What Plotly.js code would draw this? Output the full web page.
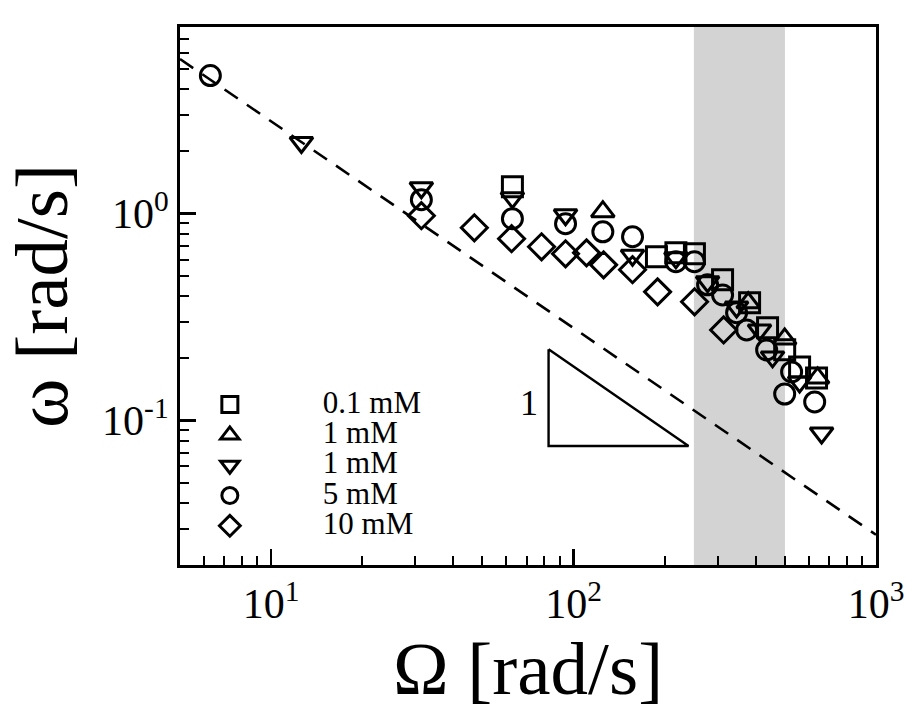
<!DOCTYPE html>
<html><head><meta charset="utf-8">
<script src="https://cdn.plot.ly/plotly-3.0.1.min.js"></script>
<style>html,body{margin:0;padding:0;background:#fff}</style>
</head><body><div id="chart" style="width:919px;height:719px"></div>
<script>
// ---- data ----
const seriesNames = ['0.1 mM', '1 mM', '1 mM', '5 mM', '10 mM'];
const sqX = [62.8, 188, 218, 251, 311, 382, 438, 499, 559, 636];
const sqY = [1.35, 0.619, 0.647, 0.640, 0.479, 0.371, 0.281, 0.220, 0.1815, 0.1606];
const tuX = [125, 378, 499, 641];
const tuY = [1.023, 0.371, 0.248, 0.1606];
const tdX = [12.6, 31.4, 62.8, 94.1, 156.7, 218, 277.5, 346, 412, 455, 559, 661];
const tdY = [2.21, 1.336, 1.195, 0.989, 0.63, 0.612, 0.469, 0.354, 0.274, 0.203, 0.1536, 0.087];
const ciX = [6.3, 31.4, 62.8, 94.1, 125, 156.7, 218, 251, 277.5, 311, 346, 373.5, 435, 526, 499, 627];
const ciY = [4.66, 1.169, 0.946, 0.895, 0.818, 0.774, 0.586, 0.586, 0.453, 0.405, 0.332, 0.274, 0.2195, 0.1717, 0.1343, 0.1229];
const diX = [31.4, 47.0, 62.4, 78.4, 94.1, 110.4, 125.7, 156.7, 189.6, 251.3, 313.5];
const diY = [0.978, 0.855, 0.757, 0.692, 0.640, 0.647, 0.566, 0.536, 0.419, 0.375, 0.274];
const guideX = [5, 1000];
const guideY = [5.6, 0.028];
const slopeX = [82.7, 82.7, 240, 82.7];
const slopeY = [0.221, 0.0752, 0.0752, 0.221];
const bandX = [250, 500];
const xTickVals = [10, 100, 1000];
const xTickText = ['10<sup>1</sup>', '10<sup>2</sup>', '10<sup>3</sup>'];
const yTickVals = [0.1, 1];
const yTickText = ['10<sup>-1</sup>', '10<sup>0</sup>'];
const xMinor = [6, 7, 8, 9, 20, 30, 40, 50, 60, 70, 80, 90, 200, 300, 400, 500, 600, 700, 800, 900];
const yMinor = [0.03, 0.04, 0.05, 0.06, 0.07, 0.08, 0.09, 0.2, 0.3, 0.4, 0.5, 0.6, 0.7, 0.8, 0.9, 2, 3, 4, 5, 6, 7, 8];

// ---- chart ----
const serif = 'Liberation Serif, Times New Roman, serif';
const symbols = ['square-open', 'triangle-up-open', 'triangle-down-open', 'circle-open', 'diamond-open'];
const xs = [sqX, tuX, tdX, ciX, diX];
const ys = [sqY, tuY, tdY, ciY, diY];

const traces = [
  {x: guideX, y: guideY, mode: 'lines', line: {color: 'black', width: 2.6, dash: '16px,11px'}, showlegend: false, hoverinfo: 'skip'},
  {x: slopeX, y: slopeY, mode: 'lines', line: {color: 'black', width: 2.4}, showlegend: false, hoverinfo: 'skip'}
];
for (let i = 0; i < 5; i++) {
  traces.push({
    x: xs[i], y: ys[i], mode: 'markers', type: 'scatter',
    name: '<span style="font-size:31px">' + seriesNames[i] + '</span>',
    marker: {symbol: symbols[i], size: 20, color: 'black', line: {color: 'black', width: 3}}
  });
}

const layout = {
  width: 919, height: 719,
  margin: {l: 180, r: 43, t: 27, b: 154},
  paper_bgcolor: 'white', plot_bgcolor: 'white',
  font: {family: serif, color: 'black'},
  showlegend: true,
  legend: {
    x: -0.062, xanchor: 'left', y: 0.3356, yanchor: 'top',
    bgcolor: 'rgba(0,0,0,0)', borderwidth: 0,
    itemwidth: 176, font: {family: serif, size: 21, color: 'black'},
    tracegroupgap: 0
  },
  xaxis: {
    type: 'log', range: [Math.log10(5), 3],
    showgrid: false, zeroline: false,
    showline: true, linewidth: 3, linecolor: 'black', mirror: true,
    ticks: 'inside', ticklen: 16, tickwidth: 2.5, tickcolor: 'black',
    tickmode: 'array', tickvals: xTickVals, ticktext: xTickText,
    tickfont: {family: serif, size: 42, color: 'black'},
    minor: {tickmode: 'array', tickvals: xMinor, ticks: 'inside', ticklen: 9, tickwidth: 2, tickcolor: 'black', showgrid: false},
    title: {text: 'Ω [rad/s]', font: {family: serif, size: 75, color: 'black'}, standoff: 8}
  },
  yaxis: {
    type: 'log', range: [Math.log10(0.02), Math.log10(8)],
    showgrid: false, zeroline: false,
    showline: true, linewidth: 3, linecolor: 'black', mirror: true,
    ticks: 'inside', ticklen: 16, tickwidth: 2.5, tickcolor: 'black',
    tickmode: 'array', tickvals: yTickVals, ticktext: yTickText,
    tickfont: {family: serif, size: 42, color: 'black'},
    minor: {tickmode: 'array', tickvals: yMinor, ticks: 'inside', ticklen: 9, tickwidth: 2, tickcolor: 'black', showgrid: false},
    title: {text: 'ω [rad/s]', font: {family: serif, size: 75, color: 'black'}, standoff: 10}
  },
  shapes: [{
    type: 'rect', xref: 'x', yref: 'paper', x0: bandX[0], x1: bandX[1], y0: 0, y1: 1,
    fillcolor: '#d3d3d3', line: {width: 0}, layer: 'below'
  }],
  annotations: [{
    xref: 'x', yref: 'y', x: Math.log10(71.5), y: Math.log10(0.1216),
    text: '1', showarrow: false, font: {family: serif, size: 36, color: 'black'}
  }]
};

Plotly.newPlot('chart', traces, layout, {displayModeBar: false, staticPlot: true});
</script>
</body></html>
